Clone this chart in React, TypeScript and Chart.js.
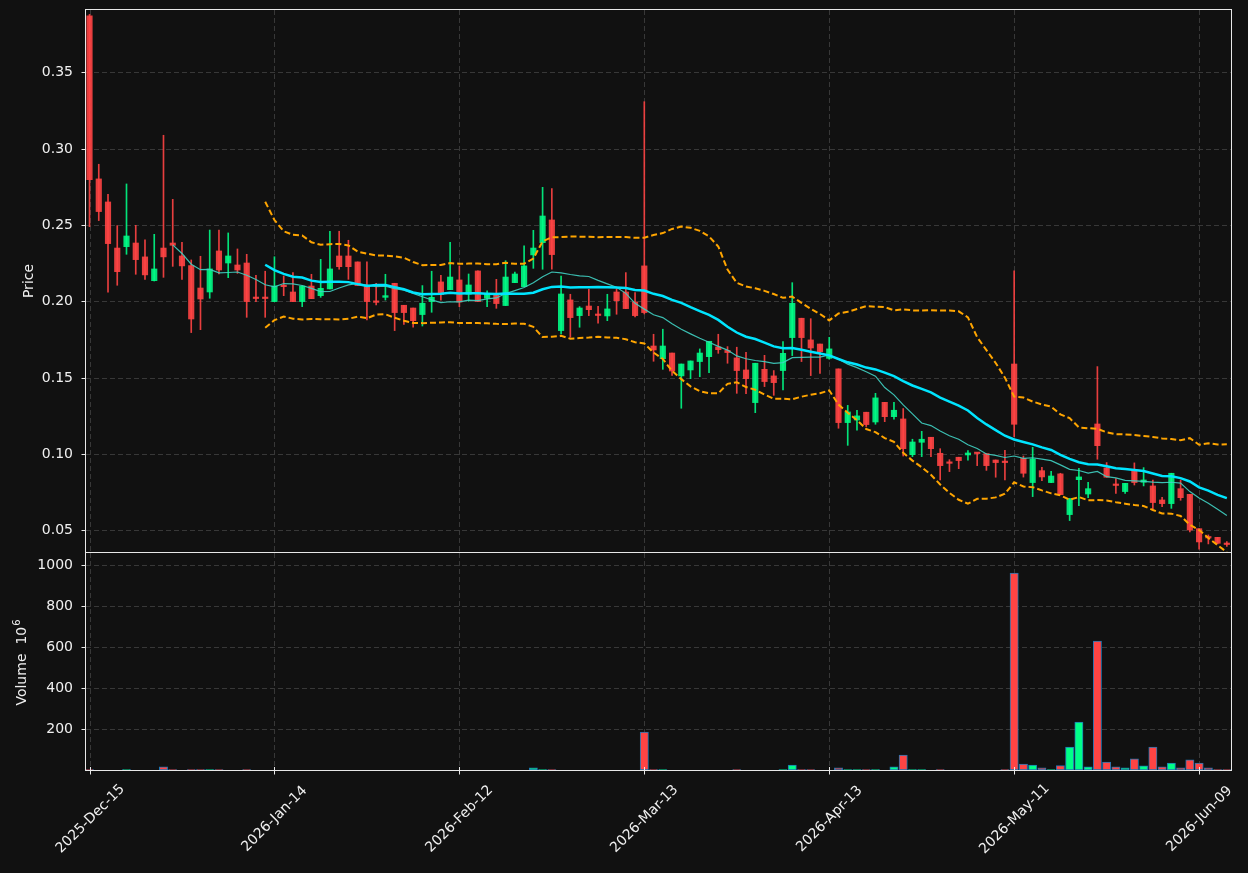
import React, { useEffect, useRef } from 'react';
import { Chart, registerables } from 'chart.js';

Chart.register(...registerables);

// ---- data (index = trading day) ----
const tickIndices = [0, 20, 40, 60, 80, 100, 120];
const tickLabels = ['2025-Dec-15', '2026-Jan-14', '2026-Feb-12', '2026-Mar-13', '2026-Apr-13', '2026-May-11', '2026-Jun-09'];
const priceTicks = [0.05, 0.1, 0.15, 0.2, 0.25, 0.3, 0.35];
const volumeTicks = [200, 400, 600, 800, 1000];

const opens = [
  0.387, 0.2802, 0.2651, 0.2349, 0.2358, 0.2382, 0.2291, 0.2135, 0.2349, 0.2382,
  0.2297, 0.2234, 0.2087, 0.2061, 0.233, 0.2251, 0.2238, 0.2251, 0.2022, 0.2022,
  0.1998, 0.21, 0.2061, 0.1998, 0.21, 0.2037, 0.2081, 0.2297, 0.2297, 0.2258,
  0.21, 0.1996, 0.2026, 0.2118, 0.1974, 0.1956, 0.1913, 0.1998, 0.2127, 0.2076,
  0.214, 0.2046, 0.2199, 0.202, 0.2042, 0.1972, 0.2122, 0.2096, 0.2304, 0.2384,
  0.2533, 0.1808, 0.2009, 0.1906, 0.1969, 0.1909, 0.1904, 0.2061, 0.2061, 0.1996,
  0.2232, 0.1707, 0.1624, 0.1661, 0.1511, 0.155, 0.1605, 0.1637, 0.1701, 0.1678,
  0.1629, 0.155, 0.1336, 0.1554, 0.1511, 0.1546, 0.1762, 0.1889, 0.1747, 0.172,
  0.1626, 0.1557, 0.1205, 0.1222, 0.1273, 0.1209, 0.1338, 0.1244, 0.1229, 0.0995,
  0.1076, 0.1109, 0.1004, 0.0941, 0.0978, 0.0993, 0.1004, 0.1002, 0.096, 0.0945,
  0.1589, 0.0971, 0.0812, 0.089, 0.0812, 0.0869, 0.0602, 0.0831, 0.0737, 0.1196,
  0.0908, 0.0795, 0.0753, 0.0895, 0.0814, 0.079, 0.0698, 0.0674, 0.0772, 0.0735,
  0.051, 0.0451, 0.0453, 0.0408,
];
const highs = [
  0.388, 0.2898, 0.2701, 0.2496, 0.2769, 0.2498, 0.2402, 0.2439, 0.3088, 0.2668,
  0.2387, 0.2271, 0.2295, 0.2467, 0.2467, 0.2448, 0.2343, 0.2308, 0.217, 0.2197,
  0.2292, 0.2166, 0.2188, 0.21, 0.2177, 0.2275, 0.2459, 0.2459, 0.24, 0.2258,
  0.2258, 0.2118, 0.2177, 0.2118, 0.1974, 0.1956, 0.2103, 0.2197, 0.217, 0.2387,
  0.2232, 0.2179, 0.2199, 0.2068, 0.2144, 0.2266, 0.2192, 0.2363, 0.2465, 0.2747,
  0.2738, 0.2166, 0.2046, 0.1965, 0.2079, 0.1967, 0.2046, 0.2083, 0.2188, 0.2057,
  0.3308, 0.1784, 0.1817, 0.1661, 0.1589, 0.1609, 0.1688, 0.1738, 0.1784, 0.1703,
  0.1699, 0.1666, 0.1594, 0.1646, 0.1546, 0.1736, 0.2122, 0.1889, 0.1886, 0.172,
  0.1764, 0.1557, 0.1318, 0.1286, 0.1273, 0.1397, 0.1338, 0.1338, 0.1297, 0.1096,
  0.1148, 0.1109, 0.1034, 0.0962, 0.0978, 0.1021, 0.1006, 0.1002, 0.096, 0.1024,
  0.2199, 0.0986, 0.1043, 0.0912, 0.0886, 0.0873, 0.0707, 0.0906, 0.0814, 0.1572,
  0.0943, 0.0838, 0.0807, 0.0941, 0.091, 0.0829, 0.0716, 0.0873, 0.0829, 0.0735,
  0.051, 0.0469, 0.0453, 0.0425,
];
const lows = [
  0.2489, 0.2529, 0.2059, 0.2105, 0.2308, 0.2177, 0.2144, 0.2133, 0.2157, 0.2229,
  0.2144, 0.1795, 0.1814, 0.202, 0.2179, 0.2155, 0.2183, 0.1895, 0.1998, 0.1895,
  0.1998, 0.2037, 0.1998, 0.1965, 0.2017, 0.2026, 0.2081, 0.221, 0.2144, 0.2103,
  0.1878, 0.1976, 0.2008, 0.1808, 0.1849, 0.183, 0.1838, 0.1928, 0.2008, 0.2076,
  0.1965, 0.2, 0.1998, 0.1965, 0.1954, 0.1972, 0.2122, 0.2096, 0.2216, 0.221,
  0.221, 0.1786, 0.1764, 0.183, 0.1906, 0.1856, 0.1873, 0.1915, 0.1952, 0.1897,
  0.1917, 0.1607, 0.1554, 0.1515, 0.1299, 0.1493, 0.1506, 0.1533, 0.1659, 0.1594,
  0.1397, 0.1395, 0.127, 0.1441, 0.1384, 0.1419, 0.1644, 0.1605, 0.1513, 0.1528,
  0.162, 0.1168, 0.1056, 0.1155, 0.1179, 0.1194, 0.1211, 0.1227, 0.0986, 0.0982,
  0.0982, 0.0982, 0.0829, 0.0884, 0.0903, 0.0958, 0.0923, 0.0892, 0.0847, 0.0829,
  0.1113, 0.0848, 0.072, 0.0825, 0.0812, 0.0733, 0.0563, 0.0661, 0.0713, 0.0965,
  0.0847, 0.0741, 0.0741, 0.0796, 0.079, 0.0637, 0.0654, 0.0643, 0.0696, 0.0488,
  0.0375, 0.041, 0.041, 0.0393,
];
const closes = [
  0.2797, 0.2588, 0.2378, 0.2194, 0.2428, 0.2273, 0.2173, 0.2212, 0.2291, 0.2367,
  0.2232, 0.1884, 0.2015, 0.2212, 0.2205, 0.2297, 0.2205, 0.1998, 0.2018, 0.2018,
  0.21, 0.2096, 0.1998, 0.21, 0.2017, 0.2085, 0.2212, 0.2227, 0.2227, 0.2103,
  0.1998, 0.1993, 0.2037, 0.1926, 0.1926, 0.1873, 0.1987, 0.2026, 0.2044, 0.2159,
  0.1995, 0.2107, 0.1998, 0.2046, 0.1985, 0.2159, 0.2179, 0.2232, 0.2349, 0.2559,
  0.2306, 0.2048, 0.1893, 0.1956, 0.1945, 0.1907, 0.195, 0.2004, 0.1952, 0.1906,
  0.1926, 0.1681, 0.1707, 0.1543, 0.1589, 0.1609, 0.1661, 0.1738, 0.1683, 0.1664,
  0.1546, 0.1493, 0.1594, 0.1474, 0.1467, 0.1659, 0.1987, 0.1762, 0.1694, 0.167,
  0.1688, 0.1205, 0.1275, 0.1249, 0.1192, 0.1367, 0.1244, 0.1286, 0.1034, 0.1078,
  0.1096, 0.1034, 0.0923, 0.0938, 0.0956, 0.1006, 0.1002, 0.0923, 0.0943, 0.0943,
  0.1194, 0.0873, 0.0967, 0.0849, 0.0855, 0.0733, 0.0707, 0.0849, 0.0772, 0.1054,
  0.0847, 0.0793, 0.0807, 0.0812, 0.0829, 0.0681, 0.0674, 0.0873, 0.0713, 0.0501,
  0.0423, 0.0449, 0.0414, 0.0406,
];
// volume in millions
const volumes = [
  2, 0, 0, 0, 2, 0, 0, 0, 16, 2,
  0, 2, 2, 2, 2, 0, 0, 2, 0, 0,
  0, 0, 0, 0, 0, 0, 0, 0, 0, 0,
  0, 0, 0, 0, 0, 0, 0, 0, 0, 0,
  0, 0, 0, 0, 0, 0, 0, 0, 11, 2,
  2, 0, 0, 0, 0, 0, 0, 0, 0, 0,
  185, 2, 2, 0, 0, 0, 0, 0, 0, 0,
  2, 0, 0, 0, 0, 2, 24, 2, 2, 0,
  0, 10, 2, 2, 2, 2, 0, 15, 73, 2,
  2, 0, 2, 0, 0, 0, 0, 0, 0, 2,
  961, 29, 24, 11, 2, 21, 112, 234, 15, 629,
  39, 15, 10, 54, 20, 112, 15, 34, 10, 49,
  34, 10, 2, 2,
];

// ---- styles ----
const BG = '#111111';
const GRID = '#383838';
const SPINE = '#e8e8e8';
const TEXT = '#f0f0f0';
const FONT = '"DejaVu Sans", Verdana, sans-serif';
const UP = '#00ff88';
const DOWN = '#ff4444';
const UP_C = 'rgba(0,255,136,0.88)';
const DOWN_C = 'rgba(255,68,68,0.9)';
const X_MIN = -0.38;
const X_MAX = 123.45;

function rollingMean(vals: number[], n: number): (number | null)[] {
  return vals.map((_, i) => {
    if (i < n - 1) return null;
    let s = 0;
    for (let k = i - n + 1; k <= i; k++) s += vals[k];
    return s / n;
  });
}
function rollingStd(vals: number[], n: number): (number | null)[] {
  const m = rollingMean(vals, n);
  return vals.map((_, i) => {
    const mu = m[i];
    if (mu === null) return null;
    let s = 0;
    for (let k = i - n + 1; k <= i; k++) s += (vals[k] - mu) * (vals[k] - mu);
    return Math.sqrt(s / n);
  });
}
function pts(arr: (number | null)[]) {
  const out: { x: number; y: number }[] = [];
  arr.forEach((v, i) => {
    if (v !== null) out.push({ x: i, y: v });
  });
  return out;
}

function decoPlugin(kind: 'price' | 'volume') {
  return {
    id: 'deco_' + kind,
    beforeDatasetsDraw(chart: any) {
      const { ctx, chartArea: a, scales } = chart;
      const ys = scales.y;
      const xs = scales.x;
      ctx.save();
      ctx.strokeStyle = GRID;
      ctx.lineWidth = 1;
      ctx.setLineDash([5, 3]);
      const yt = kind === 'price' ? priceTicks : volumeTicks;
      for (const v of yt) {
        const y = Math.round(ys.getPixelForValue(v)) + 0.5;
        ctx.beginPath();
        ctx.moveTo(a.left, y);
        ctx.lineTo(a.right, y);
        ctx.stroke();
      }
      for (const i of tickIndices) {
        const x = Math.round(xs.getPixelForValue(i)) + 0.5;
        ctx.beginPath();
        ctx.moveTo(x, a.top);
        ctx.lineTo(x, a.bottom);
        ctx.stroke();
      }
      ctx.restore();
    },
    afterDraw(chart: any) {
      const { ctx, chartArea: a, scales } = chart;
      const ys = scales.y;
      const xs = scales.x;
      ctx.save();
      ctx.setLineDash([]);
      ctx.strokeStyle = SPINE;
      ctx.lineWidth = 1;
      ctx.strokeRect(a.left - 0.5, a.top - 0.5, a.right - a.left + 1, a.bottom - a.top + 1);
      // y ticks
      const yt = kind === 'price' ? priceTicks : volumeTicks;
      ctx.fillStyle = TEXT;
      ctx.font = `14px ${FONT}`;
      ctx.textAlign = 'right';
      ctx.textBaseline = 'middle';
      for (const v of yt) {
        const y = Math.round(ys.getPixelForValue(v)) + 0.5;
        ctx.beginPath();
        ctx.moveTo(a.left - 4.5, y);
        ctx.lineTo(a.left, y);
        ctx.stroke();
        ctx.fillText(kind === 'price' ? v.toFixed(2) : String(v), a.left - 13, y);
      }
      // titles
      if (kind === 'price') {
        ctx.save();
        ctx.translate(32.5, (a.top + a.bottom) / 2);
        ctx.rotate(-Math.PI / 2);
        ctx.textAlign = 'center';
        ctx.textBaseline = 'alphabetic';
        ctx.font = `14px ${FONT}`;
        ctx.fillText('Price', 0, 0);
        ctx.restore();
      } else {
        ctx.save();
        ctx.translate(26, (a.top + a.bottom) / 2 + 1);
        ctx.rotate(-Math.PI / 2);
        ctx.textBaseline = 'alphabetic';
        ctx.textAlign = 'left';
        ctx.font = `14px ${FONT}`;
        const main = 'Volume  10';
        const w1 = ctx.measureText(main).width;
        ctx.font = `10px ${FONT}`;
        const w2 = ctx.measureText('6').width;
        const start = -(w1 + w2 + 1) / 2;
        ctx.font = `14px ${FONT}`;
        ctx.fillText(main, start, 0);
        ctx.font = `10px ${FONT}`;
        ctx.fillText('6', start + w1 + 1, -6);
        ctx.restore();
        // x ticks and labels
        ctx.font = `14px ${FONT}`;
        for (let k = 0; k < tickIndices.length; k++) {
          const x = Math.round(xs.getPixelForValue(tickIndices[k])) + 0.5;
          ctx.beginPath();
          ctx.moveTo(x, a.bottom - 3);
          ctx.lineTo(x, a.bottom + 4.5);
          ctx.stroke();
          ctx.save();
          ctx.translate(x, a.bottom + 49);
          ctx.rotate(-Math.PI / 4);
          ctx.textAlign = 'center';
          ctx.textBaseline = 'middle';
          ctx.fillText(tickLabels[k], 0, 0);
          ctx.restore();
        }
      }
      ctx.restore();
    },
  };
}

export default function App() {
  const priceRef = useRef<HTMLCanvasElement>(null);
  const volRef = useRef<HTMLCanvasElement>(null);

  useEffect(() => {
    if (!priceRef.current || !volRef.current) return;
    const idx = closes.map((_, i) => i);
    const candleColors = idx.map((i) => (closes[i] >= opens[i] ? UP_C : DOWN_C));
    const volColors = idx.map((i) => (closes[i] >= opens[i] ? UP : DOWN));
    const ma10 = rollingMean(closes, 10);
    const ma20 = rollingMean(closes, 20);
    const sd20 = rollingStd(closes, 20);
    const bbUp = ma20.map((m, i) => (m === null ? null : m + 2 * (sd20[i] as number)));
    const bbLo = ma20.map((m, i) => (m === null ? null : m - 2 * (sd20[i] as number)));

    const commonX = {
      type: 'linear' as const,
      min: X_MIN,
      max: X_MAX,
      offset: false,
      display: true,
      ticks: { display: false },
      grid: { display: false },
      border: { display: false },
    };

    const priceChart = new Chart(priceRef.current, {
      type: 'bar',
      data: {
        datasets: [
          {
            type: 'bar',
            data: idx.map((i) => ({ x: i, y: [lows[i], highs[i]] })) as any,
            backgroundColor: candleColors,
            borderWidth: 0,
            barThickness: 1,
            grouped: false,
            order: 4,
          },
          {
            type: 'bar',
            data: idx.map((i) => ({
              x: i,
              y: [Math.min(opens[i], closes[i]), Math.max(opens[i], closes[i])],
            })) as any,
            backgroundColor: candleColors,
            borderWidth: 0,
            barThickness: 5.5,
            minBarLength: 1.5,
            grouped: false,
            order: 3,
          },
          {
            type: 'line',
            data: pts(bbUp) as any,
            borderColor: '#ffa500',
            borderWidth: 2,
            borderDash: [6, 3],
            pointRadius: 0,
            tension: 0,
            clip: 0,
            order: 2,
          },
          {
            type: 'line',
            data: pts(bbLo) as any,
            borderColor: '#ffa500',
            borderWidth: 2,
            borderDash: [6, 3],
            pointRadius: 0,
            tension: 0,
            clip: 0,
            order: 2,
          },
          {
            type: 'line',
            data: pts(ma10) as any,
            borderColor: 'rgba(64,210,195,0.9)',
            borderWidth: 1.2,
            pointRadius: 0,
            tension: 0,
            clip: 0,
            order: 1,
          },
          {
            type: 'line',
            data: pts(ma20) as any,
            borderColor: '#00e5ff',
            borderWidth: 2.5,
            pointRadius: 0,
            tension: 0,
            clip: 0,
            order: 0,
          },
        ],
      },
      options: {
        animation: false,
        responsive: false,
        events: [],
        layout: { padding: { left: 0, right: 17, top: 10, bottom: 1 } },
        plugins: { legend: { display: false }, tooltip: { enabled: false } },
        scales: {
          x: { ...commonX, afterFit: (s: any) => { s.height = 0; } } as any,
          y: {
            type: 'linear',
            min: 0.0357,
            max: 0.3909,
            ticks: { display: false },
            grid: { display: false },
            border: { display: false },
            afterFit: (s: any) => { s.width = 86; },
          } as any,
        },
      },
      plugins: [decoPlugin('price')],
    });

    const volChart = new Chart(volRef.current, {
      type: 'bar',
      data: {
        datasets: [
          {
            type: 'bar',
            data: idx.map((i) => ({ x: i, y: volumes[i] })) as any,
            backgroundColor: volColors,
            borderColor: '#1f77b4',
            borderWidth: 1,
            borderSkipped: false,
            barThickness: 8.3,
            grouped: false,
          },
        ],
      },
      options: {
        animation: false,
        responsive: false,
        events: [],
        layout: { padding: { left: 0, right: 17, top: 0, bottom: 0 } },
        plugins: { legend: { display: false }, tooltip: { enabled: false } },
        scales: {
          x: { ...commonX, afterFit: (s: any) => { s.height = 103; } } as any,
          y: {
            type: 'linear',
            min: 0,
            max: 1058.5,
            ticks: { display: false },
            grid: { display: false },
            border: { display: false },
            afterFit: (s: any) => { s.width = 86; },
          } as any,
        },
      },
      plugins: [decoPlugin('volume')],
    });

    return () => {
      priceChart.destroy();
      volChart.destroy();
    };
  }, []);

  return (
    <div
      style={{
        position: 'fixed',
        left: 0,
        top: 0,
        width: 1248,
        height: 873,
        background: BG,
        overflow: 'hidden',
      }}
    >
      <canvas
        ref={priceRef}
        width={1248}
        height={553}
        style={{ position: 'absolute', left: 0, top: 0, display: 'block' }}
      />
      <canvas
        ref={volRef}
        width={1248}
        height={320}
        style={{ position: 'absolute', left: 0, top: 553, display: 'block' }}
      />
    </div>
  );
}
